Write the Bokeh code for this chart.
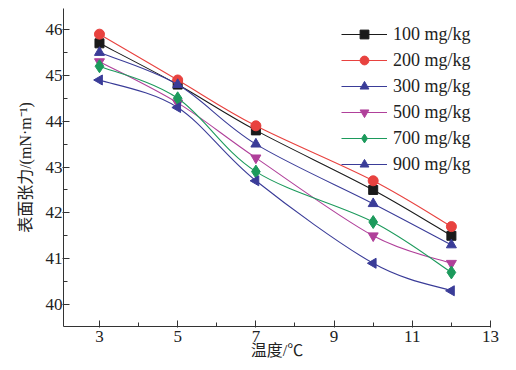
import numpy as np
from bokeh.plotting import figure
from bokeh.models import FixedTicker, Legend, LegendItem, ColumnDataSource, Range1d
from bokeh.embed import file_html
from bokeh.resources import INLINE

temps = [3, 5, 7, 10, 12]
labels = ["100 mg/kg", "200 mg/kg", "300 mg/kg", "500 mg/kg", "700 mg/kg", "900 mg/kg"]
s100 = [45.7, 44.8, 43.8, 42.5, 41.5]
s200 = [45.9, 44.9, 43.9, 42.7, 41.7]
s300 = [45.5, 44.8, 43.5, 42.2, 41.3]
s500 = [45.3, 44.4, 43.2, 41.5, 40.9]
s700 = [45.2, 44.5, 42.9, 41.8, 40.7]
s900 = [44.9, 44.3, 42.7, 40.9, 40.3]
series = [s100, s200, s300, s500, s700, s900]
x_ticks = [3, 5, 7, 9, 11, 13]
y_ticks = [40, 41, 42, 43, 44, 45, 46]

colors = ["#1a1a1a", "#e8423f", "#3a3c98", "#b0409a", "#1c9a5c", "#3a3c98"]
markers = ["square", "circle", "triangle", "inverted_triangle", "diamond", "triangle"]
angles = [0, 0, 0, 0, 0, np.pi / 2]
sizes = [9, 10, 10, 10, 13, 10]

FONT = "Liberation Serif, Noto Sans CJK SC"

p = figure(width=516, height=370, output_backend="svg", toolbar_location=None,
           x_range=Range1d(2.08, 13.0), y_range=Range1d(39.52, 46.46),
           min_border_left=63, min_border_right=26, min_border_top=8, min_border_bottom=44)
p.outline_line_color = None
p.xgrid.visible = False
p.ygrid.visible = False

p.xaxis.ticker = FixedTicker(ticks=x_ticks, minor_ticks=[4, 6, 8, 10, 12])
p.yaxis.ticker = FixedTicker(ticks=y_ticks, minor_ticks=[39.5, 40.5, 41.5, 42.5, 43.5, 44.5, 45.5, 46.5])
for ax in (p.xaxis[0], p.yaxis[0]):
    ax.major_tick_in = 6
    ax.major_tick_out = 1
    ax.minor_tick_in = 4
    ax.minor_tick_out = 0
    ax.axis_line_color = "#333333"
    ax.major_tick_line_color = "#333333"
    ax.minor_tick_line_color = "#333333"
    ax.major_label_text_font = FONT
    ax.major_label_text_font_size = "17px"
    ax.major_label_text_color = "#222222"
    ax.axis_label_text_font = FONT
    ax.axis_label_text_font_style = "normal"
    ax.axis_label_text_font_size = "16px"
    ax.axis_label_text_color = "#222222"
p.xaxis.axis_label = "温度/℃"
p.yaxis.axis_label = "表面张力/(mN·m⁻¹)"
p.xaxis.major_label_standoff = 3
p.xaxis.axis_label_standoff = -3
p.yaxis.major_label_standoff = 0
p.yaxis.axis_label_standoff = 9

items = []
xs = np.array(temps, dtype=float)
for ys, lab, c, m, a, sz in zip(series, labels, colors, markers, angles, sizes):
    ys = np.array(ys, dtype=float)
    n = len(xs)
    P = np.stack([xs, ys], axis=1)
    Pext = np.vstack([P[0], P, P[-1]])
    c0 = []; c1 = []
    for i in range(n - 1):
        p0, p1, p2, p3 = Pext[i], Pext[i + 1], Pext[i + 2], Pext[i + 3]
        c0.append(p1 + (p2 - p0) / 6.0)
        c1.append(p2 - (p3 - p1) / 6.0)
    c0 = np.array(c0); c1 = np.array(c1)
    src = ColumnDataSource(dict(x0=xs[:-1], y0=ys[:-1], x1=xs[1:], y1=ys[1:],
                                cx0=c0[:, 0], cy0=c0[:, 1], cx1=c1[:, 0], cy1=c1[:, 1]))
    r_line = p.bezier(x0="x0", y0="y0", x1="x1", y1="y1", cx0="cx0", cy0="cy0",
                      cx1="cx1", cy1="cy1", source=src, line_color=c, line_width=1.1)
    psrc = ColumnDataSource(dict(x=xs, y=ys, ang=[a] * n))
    r_pts = p.scatter(x="x", y="y", angle="ang", source=psrc, marker=m, size=sz,
                      fill_color=c, line_color=c)
    items.append(LegendItem(label=lab, renderers=[r_line, r_pts], index=0))

legend = Legend(items=items, location=(278, 151))
legend.border_line_color = None
legend.background_fill_alpha = 0
legend.label_text_font = FONT
legend.label_text_font_size = "18px"
legend.label_text_color = "#222222"
legend.glyph_width = 46
legend.glyph_height = 22
legend.label_height = 22
legend.spacing = 4
legend.label_standoff = 6
legend.margin = 0
legend.padding = 4
p.add_layout(legend, "center")

open("out.html", "w").write(file_html(p, INLINE))
